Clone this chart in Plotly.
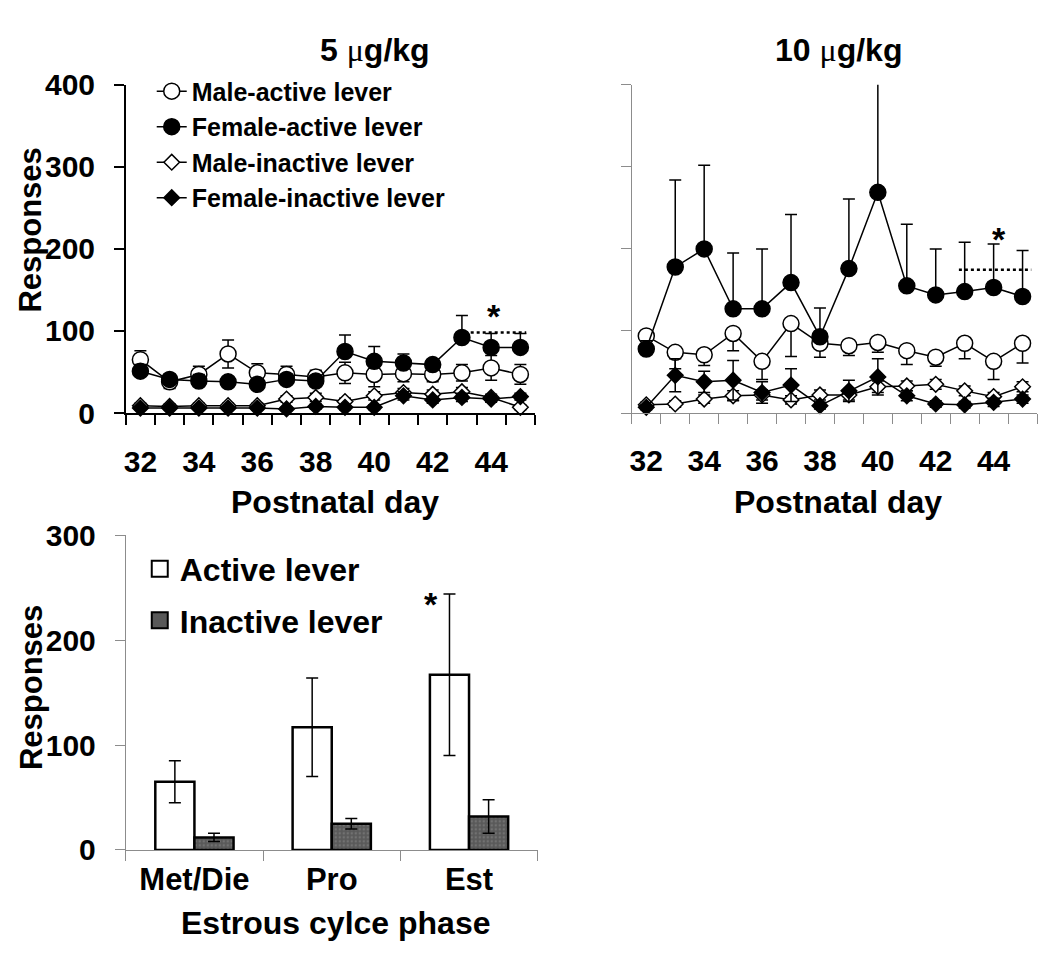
import plotly.graph_objects as go

# ---------------- data ----------------
days = list(range(32, 46))
day_ticks = [32, 34, 36, 38, 40, 42, 44]

# 5 ug/kg
m_act_5 = [65, 38, 47, 72, 49, 47, 44, 49, 47, 48, 47, 49, 55, 47]
m_act_5_err = [11, 8, 10, 17, 11, 10, 8, 13, 15, 10, 9, 10, 15, 12]
f_act_5 = [51, 41, 39, 38, 35, 41, 39, 75, 63, 61, 59, 92, 80, 80]
f_act_5_err = [8, 5, 8, 5, 6, 5, 5, 20, 18, 11, 6, 27, 17, 17]
m_inact_5 = [9, 8, 9, 9, 9, 17, 19, 14, 21, 25, 23, 26, 19, 7]
m_inact_5_err = [3, 3, 3, 3, 3, 4, 5, 4, 5, 5, 5, 5, 4, 3]
f_inact_5 = [6, 6, 6, 6, 6, 5, 8, 7, 7, 21, 16, 19, 17, 20]
f_inact_5_err = [2, 2, 2, 2, 2, 2, 3, 3, 3, 5, 4, 5, 4, 4]

# 10 ug/kg
m_act_10 = [94, 74, 71, 97, 63, 109, 85, 82, 86, 76, 68, 85, 63, 85]
m_act_10_err = [10, 20, 13, 21, 22, 40, 17, 12, 12, 17, 11, 19, 22, 24]
f_act_10 = [78, 178, 200, 127, 127, 159, 93, 176, 269, 155, 144, 148, 153, 142]
f_act_10_err = [10, 106, 102, 68, 73, 83, 35, 85, 141, 75, 56, 60, 53, 56]
m_inact_10 = [10, 11, 17, 21, 22, 16, 22, 22, 32, 33, 35, 27, 20, 32]
m_inact_10_err = [3, 4, 5, 6, 6, 5, 6, 6, 7, 6, 6, 6, 5, 6]
f_inact_10 = [7, 46, 38, 40, 25, 34, 9, 27, 44, 21, 11, 10, 13, 17]
f_inact_10_err = [3, 20, 13, 24, 13, 20, 4, 13, 22, 6, 4, 4, 5, 5]

# significance markers
sig5_x = [43.3, 45.2]
sig5_y = 98
star5 = (44.1, 128)
sig10_x = [42.8, 45.3]
sig10_y = 174.5
star10 = (44.2, 222)

# estrous cycle
phases = ["Met/Die", "Pro", "Est"]
active = [65, 117, 167]
active_err = [20, 47, 77]
inactive = [12, 25, 32]
inactive_err = [4, 5, 16]
star_est = ("Est", 242)

FONT = "Liberation Sans"
GRAY = "#8c8c8c"
W, H = 1050, 978
OFF = 8  # page body margin


def px(x):
    return (x - OFF) / W


def py(y):
    return 1 - (y - OFF) / H


fig = go.Figure()


def add_series(xa, ya, y, ep, em, name, symbol, filled, size, show):
    fig.add_trace(go.Scatter(
        x=days, y=y, mode="lines+markers", name=name,
        xaxis=xa, yaxis=ya, cliponaxis=False,
        legendgroup=name, showlegend=show, legend="legend",
        line=dict(color="black", width=1.5),
        marker=dict(symbol=symbol, size=size,
                    color="black" if filled else "white",
                    line=dict(color="black", width=1.5)),
        error_y=dict(type="data", symmetric=False,
                     array=ep, arrayminus=em,
                     color="black", thickness=1.5, width=6),
    ))


zeros = [0] * len(days)

add_series("x", "y", m_act_5, m_act_5_err, m_act_5_err, "Male-active lever", "circle", False, 16, True)
add_series("x", "y", f_act_5, f_act_5_err, zeros, "Female-active lever", "circle", True, 16, True)
add_series("x", "y", m_inact_5, m_inact_5_err, m_inact_5_err, "Male-inactive lever", "diamond", False, 12, True)
add_series("x", "y", f_inact_5, f_inact_5_err, f_inact_5_err, "Female-inactive lever", "diamond", True, 12, True)

add_series("x2", "y2", m_act_10, zeros, m_act_10_err, "Male-active lever", "circle", False, 16, False)
add_series("x2", "y2", f_act_10, f_act_10_err, zeros, "Female-active lever", "circle", True, 16, False)
add_series("x2", "y2", m_inact_10, m_inact_10_err, m_inact_10_err, "Male-inactive lever", "diamond", False, 12, False)
add_series("x2", "y2", f_inact_10, f_inact_10_err, f_inact_10_err, "Female-inactive lever", "diamond", True, 12, False)

fig.add_trace(go.Scatter(x=sig5_x, y=[sig5_y] * 2, mode="lines", xaxis="x", yaxis="y",
                         line=dict(color="black", width=2.5, dash="dot"), showlegend=False, cliponaxis=False))
fig.add_trace(go.Scatter(x=sig10_x, y=[sig10_y] * 2, mode="lines", xaxis="x2", yaxis="y2",
                         line=dict(color="black", width=2.5, dash="dot"), showlegend=False, cliponaxis=False))

fig.add_trace(go.Bar(x=phases, y=active, xaxis="x3", yaxis="y3", name="Active lever",
                     marker=dict(color="white", line=dict(color="black", width=2.5)),
                     error_y=dict(type="data", array=active_err, color="black", thickness=1.5, width=6),
                     showlegend=False))
fig.add_trace(go.Bar(x=phases, y=inactive, xaxis="x3", yaxis="y3", name="Inactive lever",
                     marker=dict(color="#595959", line=dict(color="black", width=2.5),
                                 pattern=dict(shape=".", fgcolor="#8a8a8a", size=4, solidity=0.3,
                                              fillmode="overlay")),
                     error_y=dict(type="data", array=inactive_err, color="black", thickness=1.5, width=6),
                     showlegend=False))
fig.add_trace(go.Scatter(x=[None], y=[None], xaxis="x3", yaxis="y3", mode="markers", name="Active lever",
                         legend="legend2", legendgroup="a",
                         marker=dict(symbol="square", size=16, color="white", line=dict(color="black", width=2))))
fig.add_trace(go.Scatter(x=[None], y=[None], xaxis="x3", yaxis="y3", mode="markers", name="Inactive lever",
                         legend="legend2", legendgroup="b",
                         marker=dict(symbol="square", size=16, color="#595959", line=dict(color="black", width=2))))

dom_x1 = [px(124), px(534)]
dom_x2 = [px(631), px(1037)]
dom_y12 = [py(410), py(70)]
dom_x3 = [px(124), px(536.7)]
dom_y3 = [py(862.7), py(536.7)]

TICK_SIZE = 30


def xday(domain, color, lw, labels=True, overlay=None, inside=False):
    d = dict(range=[31.5, 45.5], tickmode="array", tickvals=day_ticks,
             ticks="", showgrid=False, zeroline=False,
             tickfont=dict(size=TICK_SIZE, family=FONT, color="black", weight="bold"),
             ticklabelstandoff=21,
             minor=dict(tick0=31.5, dtick=1, ticks="inside" if inside else "outside",
                        ticklen=10, tickcolor=color, tickwidth=lw, showgrid=False))
    if overlay:
        d.update(overlaying=overlay, showticklabels=False, showline=False)
    else:
        d.update(domain=domain, showline=True, linecolor=color, linewidth=lw,
                 showticklabels=labels)
    return d


def yresp(domain, color, lw, labels=True, overlay=None, inside=False):
    d = dict(range=[0, 400], tickmode="array", tickvals=[0, 100, 200, 300, 400],
             ticks="inside" if inside else "outside", ticklen=10, tickcolor=color, tickwidth=lw,
             showgrid=False, zeroline=False,
             tickfont=dict(size=TICK_SIZE, family=FONT, color="black", weight="bold"),
             ticklabelstandoff=13)
    if overlay:
        d.update(overlaying=overlay, showticklabels=False, showline=False, side="left")
    else:
        d.update(domain=domain, showline=True, linecolor=color, linewidth=lw,
                 showticklabels=labels)
    return d


ann_font = dict(family=FONT, size=32, color="black", weight="bold")
resp_font = dict(family=FONT, size=31, color="black", weight="bold")

fig.update_layout(
    width=W, height=H,
    margin=dict(l=0, r=0, t=0, b=0),
    paper_bgcolor="white", plot_bgcolor="white",
    font=dict(family=FONT, color="black", weight="bold"),
    bargap=0.43, bargroupgap=0,
    xaxis=dict(**xday(dom_x1, "black", 1.5), anchor="y"),
    yaxis=dict(**yresp(dom_y12, "black", 1.5), anchor="x"),
    xaxis2=dict(**xday(dom_x2, GRAY, 1), anchor="y2"),
    yaxis2=dict(**yresp(dom_y12, GRAY, 1, labels=False), anchor="x2"),
    xaxis5=dict(**xday(None, "black", 1.5, overlay="x", inside=True), anchor="y"),
    yaxis5=dict(**yresp(None, "black", 1.5, overlay="y", inside=True), anchor="x"),
    xaxis6=dict(**xday(None, GRAY, 1, overlay="x2", inside=True), anchor="y2"),
    yaxis6=dict(**yresp(None, GRAY, 1, overlay="y2", inside=True), anchor="x2"),
    xaxis3=dict(domain=dom_x3, anchor="y3", type="category", tickson="boundaries",
                ticks="outside", ticklen=10, tickcolor=GRAY, tickwidth=1,
                showline=True, linecolor=GRAY, linewidth=1, showgrid=False,
                tickfont=dict(size=31, family=FONT, color="black", weight="bold"),
                ticklabelstandoff=2),
    yaxis3=dict(domain=dom_y3, anchor="x3", range=[0, 300], tickmode="array",
                tickvals=[0, 100, 200, 300],
                ticks="outside", ticklen=10, tickcolor=GRAY, tickwidth=1,
                showline=True, linecolor=GRAY, linewidth=1, showgrid=False, zeroline=False,
                tickfont=dict(size=TICK_SIZE, family=FONT, color="black", weight="bold"),
                ticklabelstandoff=13),
    legend=dict(x=px(150), y=py(53), xanchor="left", yanchor="top",
                bgcolor="rgba(0,0,0,0)", borderwidth=0,
                font=dict(size=25, family=FONT, color="black", weight="bold"),
                traceorder="grouped", tracegroupgap=0, itemclick=False),
    legend2=dict(x=px(138), y=py(543), xanchor="left", yanchor="top",
                 bgcolor="rgba(0,0,0,0)", borderwidth=0,
                 font=dict(size=32, family=FONT, color="black", weight="bold"),
                 traceorder="grouped", tracegroupgap=7, itemclick=False),
    showlegend=True,
)

mu = "<span style='font-family:Liberation Serif;font-weight:normal'>μ</span>"
annotations = [
    dict(text="5 " + mu + "g/kg", x=px(374), y=py(34), xref="paper", yref="paper",
         showarrow=False, xanchor="center", yanchor="middle", font=ann_font),
    dict(text="10 " + mu + "g/kg", x=px(838), y=py(34), xref="paper", yref="paper",
         showarrow=False, xanchor="center", yanchor="middle", font=ann_font),
    dict(text="Responses", x=px(29), y=py(220), xref="paper", yref="paper",
         showarrow=False, textangle=-90, xanchor="center", yanchor="middle", font=resp_font),
    dict(text="Responses", x=px(29), y=py(694), xref="paper", yref="paper",
         showarrow=False, textangle=-90, xanchor="center", yanchor="middle", font=resp_font),
    dict(text="Postnatal day", x=px(334), y=py(502), xref="paper", yref="paper",
         showarrow=False, xanchor="center", yanchor="middle", font=ann_font),
    dict(text="Postnatal day", x=px(838), y=py(502), xref="paper", yref="paper",
         showarrow=False, xanchor="center", yanchor="middle", font=ann_font),
    dict(text="Estrous cylce phase", x=px(334), y=py(938), xref="paper", yref="paper",
         showarrow=False, xanchor="center", yanchor="middle", font=ann_font),
    dict(text="*", x=star5[0], y=star5[1], xref="x", yref="y", showarrow=False,
         yshift=-8, font=dict(family=FONT, size=34, color="black", weight="bold")),
    dict(text="*", x=star10[0], y=star10[1], xref="x2", yref="y2", showarrow=False,
         yshift=-8, font=dict(family=FONT, size=34, color="black", weight="bold")),
    dict(text="*", x=star_est[0], y=star_est[1], xref="x3", yref="y3", showarrow=False,
         xshift=-38, yshift=-8, font=dict(family=FONT, size=34, color="black", weight="bold")),
]
fig.update_layout(annotations=annotations)

fig.write_html("out.html")
